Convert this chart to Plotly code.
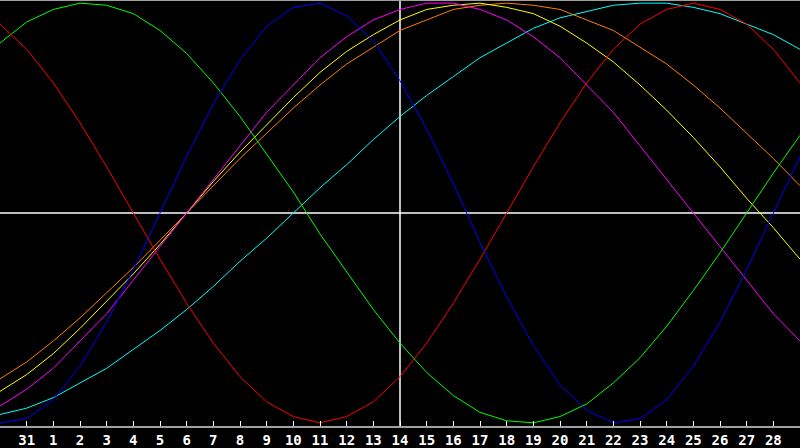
import plotly.graph_objects as go

# day index 0..30 (Jan 30 .. Mar 1), values in percent
days = list(range(31))
tick_pos = list(range(1, 30))
tick_labels = ['31'] + [str(d) for d in range(1, 29)]

physical = [-100, -98, -89, -73, -52, -27, 0, 27, 52, 73, 89, 98, 100, 94, 82, 63,
            40, 14, -14, -40, -63, -82, -94, -100, -98, -89, -73, -52, -27, 0, 27]
emotional = [90, 78, 62, 43, 22, 0, -22, -43, -62, -78, -90, -97, -100, -97, -90, -78,
             -62, -43, -22, 0, 22, 43, 62, 78, 90, 97, 100, 97, 90, 78, 62]
intellectual = [81, 91, 97, 100, 99, 95, 87, 76, 62, 46, 28, 10, -10, -28, -46, -62,
                -76, -87, -95, -99, -100, -97, -91, -81, -69, -54, -37, -19, 0, 19, 37]
intuitive = [-92, -84, -74, -61, -48, -32, -16, 0, 16, 32, 48, 61, 74, 84, 92, 97,
             100, 100, 97, 92, 84, 74, 61, 48, 32, 16, 0, -16, -32, -48, -61]
aesthetic = [-85, -77, -67, -55, -42, -29, -15, 0, 15, 29, 42, 55, 67, 77, 85, 92,
             97, 99, 100, 98, 95, 89, 81, 72, 61, 49, 36, 22, 7, -7, -22]
awareness = [-79, -71, -61, -50, -38, -26, -13, 0, 13, 26, 38, 50, 61, 71, 79, 87,
             92, 97, 99, 100, 99, 97, 92, 87, 79, 71, 61, 50, 38, 26, 13]
spiritual = [-96, -93, -88, -81, -74, -65, -56, -46, -35, -23, -12, 0, 12, 23, 35, 46,
             56, 65, 74, 81, 88, 93, 96, 99, 100, 100, 98, 95, 90, 85, 78]

series = [
    ('Spiritual', spiritual, '#00ffff'),
    ('Awareness', awareness, '#ff8000'),
    ('Aesthetic', aesthetic, '#ffff00'),
    ('Intuitive', intuitive, '#ff00ff'),
    ('Intellectual', intellectual, '#00ff00'),
    ('Emotional', emotional, '#ff0000'),
    ('Physical', physical, '#0000ff'),
]

fig = go.Figure()
for name, vals, color in series:
    fig.add_trace(go.Scatter(
        x = days,
        y = vals,
        mode = 'lines',
        name = name,
        line = dict(color = color, width = 1)))

# cross hair at today (Feb 14) and zero line
fig.add_shape(type = 'line', xref = 'x', yref = 'paper', x0 = 15, x1 = 15, y0 = 0, y1 = 1,
              line = dict(color = 'white', width = 1.5), layer = 'below')
fig.add_shape(type = 'line', xref = 'paper', yref = 'y', x0 = 0, x1 = 1, y0 = 0, y1 = 0,
              line = dict(color = 'white', width = 1.5), layer = 'below')
# top border
fig.add_shape(type = 'line', xref = 'paper', yref = 'paper', x0 = 0, x1 = 1, y0 = 1, y1 = 1,
              line = dict(color = '#a0a0a0', width = 2))

fig.update_layout(
    width = 800,
    height = 448,
    margin = dict(l = 0, r = 0, t = 0, b = 20),
    paper_bgcolor = 'black',
    plot_bgcolor = 'black',
    showlegend = False,
    xaxis = dict(
        range = [0, 30],
        tickvals = tick_pos,
        ticktext = tick_labels,
        ticks = 'inside',
        ticklen = 5,
        tickcolor = 'white',
        tickwidth = 1,
        showgrid = False,
        zeroline = False,
        showline = True,
        linecolor = '#a0a0a0',
        linewidth = 2,
        tickfont = dict(family = 'DejaVu Sans Mono', size = 14, color = 'white', weight = 'bold')),
    yaxis = dict(
        range = [-101.5, 101.5],
        showticklabels = False,
        showgrid = False,
        zeroline = False,
        showline = True,
        linecolor = '#a0a0a0',
        linewidth = 2,
        ticks = ''))

fig.write_html('out.html', config = {'displayModeBar': False},
               post_script = "document.body.style.margin = '0';")
